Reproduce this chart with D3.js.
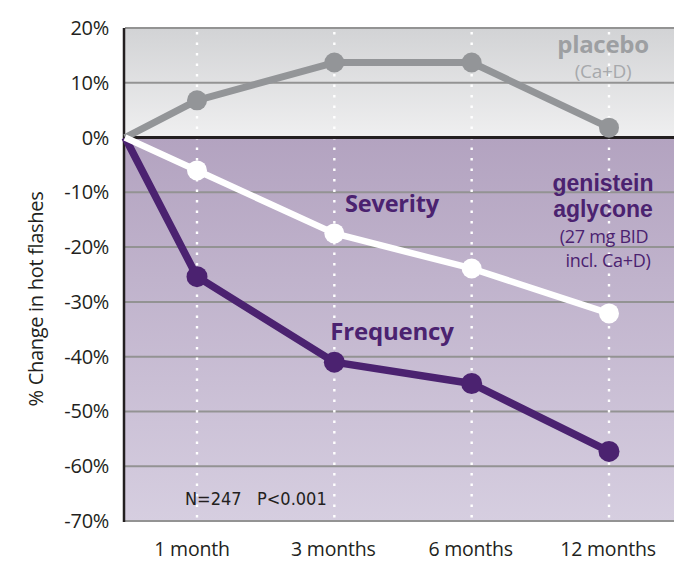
<!DOCTYPE html>
<html>
<head>
<meta charset="utf-8">
<script src="https://cdn.jsdelivr.net/npm/d3@7"></script>
<style>
  html, body { margin: 0; padding: 0; background: #ffffff; }
  svg { display: block; font-family: "Open Sans", "Noto Sans", sans-serif; }
</style>
</head>
<body>
<svg id="chart" width="695" height="564"></svg>
<script>
// Time points (the origin "baseline" sits on the y-axis)
const categories = ["1 month", "3 months", "6 months", "12 months"];
const placebo   = [0, 6.8, 13.7, 13.7, 1.8];
const severity  = [0, -6.0, -17.5, -23.9, -32.1];
const frequency = [0, -25.4, -41.0, -44.9, -57.3];
const yTicks = [20, 10, 0, -10, -20, -30, -40, -50, -60, -70];

const svg = d3.select("#chart");
const plotLeft = 125, plotRight = 674, plotTop = 28, plotBottom = 521;

const y = d3.scaleLinear().domain([-70, 20]).range([plotBottom, plotTop]);
const x = d3.scalePoint().domain(categories).range([197, 609]);
const xAt = i => i === 0 ? plotLeft : x(categories[i - 1]);

const defs = svg.append("defs");
const gGray = defs.append("linearGradient").attr("id", "gray").attr("x1", 0).attr("x2", 0).attr("y1", 0).attr("y2", 1);
gGray.append("stop").attr("offset", "0%").attr("stop-color", "#d2d3d5");
gGray.append("stop").attr("offset", "100%").attr("stop-color", "#efeff0");
const gPurple = defs.append("linearGradient").attr("id", "purple").attr("x1", 0).attr("x2", 0).attr("y1", 0).attr("y2", 1);
gPurple.append("stop").attr("offset", "0%").attr("stop-color", "#b3a3c0");
gPurple.append("stop").attr("offset", "100%").attr("stop-color", "#d6cee0");

// Background bands: above and below zero
svg.append("rect").attr("x", plotLeft).attr("y", y(20)).attr("width", plotRight - plotLeft).attr("height", y(0) - y(20)).attr("fill", "url(#gray)");
svg.append("rect").attr("x", plotLeft).attr("y", y(0)).attr("width", plotRight - plotLeft).attr("height", y(-70) - y(0)).attr("fill", "url(#purple)");

// Horizontal gridlines
svg.append("g").selectAll("line").data(yTicks.filter(d => d !== 0)).join("line")
  .attr("x1", plotLeft).attr("x2", plotRight)
  .attr("y1", d => y(d)).attr("y2", d => y(d))
  .attr("stroke", "#939393").attr("stroke-width", 2);

// Dotted verticals at each time point
svg.append("g").selectAll("line").data(categories).join("line")
  .attr("x1", d => x(d)).attr("x2", d => x(d))
  .attr("y1", plotTop + 4).attr("y2", plotBottom)
  .attr("stroke", "#ffffff").attr("stroke-width", 2.4)
  .attr("stroke-dasharray", "2.4 8.1");

// Zero line and y-axis line
svg.append("line").attr("x1", plotLeft).attr("x2", plotRight).attr("y1", y(0)).attr("y2", y(0))
  .attr("stroke", "#231f20").attr("stroke-width", 3);
svg.append("line").attr("x1", plotLeft - 1).attr("x2", plotLeft - 1).attr("y1", plotTop).attr("y2", plotBottom + 1)
  .attr("stroke", "#231f20").attr("stroke-width", 2.5);

// Y tick labels
svg.append("g").selectAll("text").data(yTicks).join("text")
  .attr("x", 109).attr("y", d => y(d) + 7)
  .attr("text-anchor", "end").attr("font-size", 20).attr("fill", "#231f20")
  .attr("letter-spacing", -0.3)
  .text(d => d + "%");

// X labels
svg.append("g").selectAll("text").data(categories).join("text")
  .attr("x", (d, i) => x(d) + (i === 0 ? -5 : -1)).attr("y", 556)
  .attr("text-anchor", "middle").attr("font-size", 19.5).attr("fill", "#231f20")
  .attr("letter-spacing", -0.2)
  .text(d => d);

// Y axis title
svg.append("text")
  .attr("transform", "translate(43,299) rotate(-90)")
  .attr("text-anchor", "middle").attr("font-size", 20).attr("fill", "#231f20")
  .attr("letter-spacing", -0.3)
  .text("% Change in hot flashes");

// Series lines and markers
const line = d3.line().x((d, i) => xAt(i)).y(d => y(d));
function series(values, color, width, r) {
  svg.append("path").datum(values).attr("d", line)
    .attr("fill", "none").attr("stroke", color).attr("stroke-width", width)
    .attr("stroke-linejoin", "round");
  svg.append("g").selectAll("circle").data(values.slice(1)).join("circle")
    .attr("cx", (d, i) => xAt(i + 1)).attr("cy", d => y(d)).attr("r", r)
    .attr("fill", color);
}
series(placebo, "#939598", 7, 10);
series(frequency, "#4b2270", 7.5, 10.5);
series(severity, "#ffffff", 6.5, 10);

// Series annotations
const purpleText = "#4b2270";

// placebo label: bold name with the regimen underneath
svg.append("text").attr("x", 603).attr("y", 53).attr("text-anchor", "middle")
  .attr("letter-spacing", -0.3)
  .attr("font-size", 24).attr("font-weight", "bold").attr("fill", "#9d9fa2").text("placebo");
svg.append("text").attr("x", 603).attr("y", 78).attr("text-anchor", "middle")
  .attr("letter-spacing", -0.3)
  .attr("font-size", 19).attr("fill", "#a7a9ac").text("(Ca+D)");

// treatment label, four lines (tightly set bold name)
const nameFont = "'Liberation Sans', Arial, sans-serif";
svg.append("text").attr("x", 603).attr("y", 191).attr("text-anchor", "middle")
  .attr("font-family", nameFont).attr("font-size", 23).attr("font-weight", "bold")
  .attr("fill", purpleText).text("genistein");
svg.append("text").attr("x", 603).attr("y", 217).attr("text-anchor", "middle")
  .attr("font-family", nameFont).attr("font-size", 23).attr("font-weight", "bold")
  .attr("fill", purpleText).text("aglycone");
svg.append("text").attr("x", 604).attr("y", 243).attr("text-anchor", "middle")
  .attr("letter-spacing", -0.3).attr("font-size", 18).attr("fill", purpleText).text("(27 mg BID");
svg.append("text").attr("x", 608).attr("y", 267).attr("text-anchor", "middle")
  .attr("letter-spacing", -0.3).attr("font-size", 18).attr("fill", purpleText).text("incl. Ca+D)");

svg.append("text").attr("x", 392).attr("y", 212).attr("text-anchor", "middle")
  .attr("font-size", 23.5).attr("font-weight", "bold").attr("fill", purpleText)
  .attr("letter-spacing", -0.2).text("Severity");
svg.append("text").attr("x", 392).attr("y", 340).attr("text-anchor", "middle")
  .attr("font-size", 24).attr("font-weight", "bold").attr("fill", purpleText)
  .attr("letter-spacing", -0.2).text("Frequency");

svg.append("text").attr("x", 185).attr("y", 505)
  .attr("font-size", 18).attr("fill", "#231f20")
  .attr("font-family", "'Liberation Sans Narrow', 'DejaVu Sans Condensed', sans-serif")
  .attr("xml:space", "preserve")
  .text("N=247   P<0.001");
</script>
</body>
</html>
